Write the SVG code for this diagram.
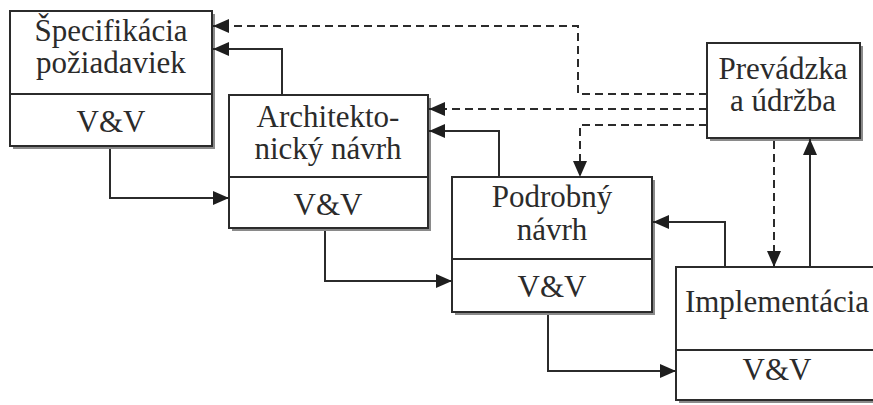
<svg xmlns="http://www.w3.org/2000/svg" width="873" height="405" viewBox="0 0 873 405">
<style>
.shadow{fill:#8a8a8a;}
.box{fill:#fff;stroke:#2b2b2b;stroke-width:2;}
.div{stroke:#2b2b2b;stroke-width:2;}
.t{font-family:"Liberation Serif","Times New Roman",serif;font-size:31px;fill:#2b2b2b;text-anchor:middle;}
.c{fill:none;stroke:#2b2b2b;stroke-width:2;}
.d{fill:none;stroke:#2b2b2b;stroke-width:2;stroke-dasharray:8 5;}
</style>
<defs>
<marker id="ah" markerUnits="userSpaceOnUse" markerWidth="18" markerHeight="16" refX="16" refY="7" orient="auto">
<path d="M0,0 L16,7 L0,14 z" fill="#1e1e1e"/>
</marker>
</defs>
<rect width="873" height="405" fill="#fff"/>
<g id="spec">
<rect class="shadow" x="13" y="14" width="202" height="135"/>
<rect class="box" x="10" y="11" width="202" height="135"/>
<line class="div" x1="10" y1="94" x2="212" y2="94"/>
<text class="t" x="111" y="41">Špecifikácia</text>
<text class="t" x="111" y="73">požiadaviek</text>
<text class="t" x="111" y="132">V&amp;V</text>
</g>
<g id="arch">
<rect class="shadow" x="232" y="98" width="199" height="133"/>
<rect class="box" x="229" y="95" width="199" height="133"/>
<line class="div" x1="229" y1="177" x2="428" y2="177"/>
<text class="t" x="328" y="127">Architekto-</text>
<text class="t" x="328" y="159">nický návrh</text>
<text class="t" x="328" y="215">V&amp;V</text>
</g>
<g id="podrobny">
<rect class="shadow" x="455" y="180" width="200" height="135"/>
<rect class="box" x="452" y="177" width="200" height="135"/>
<line class="div" x1="452" y1="259" x2="652" y2="259"/>
<text class="t" x="552" y="207">Podrobný</text>
<text class="t" x="552" y="240">návrh</text>
<text class="t" x="552" y="297">V&amp;V</text>
</g>
<g id="impl">
<rect class="shadow" x="679" y="270" width="210" height="133"/>
<rect class="box" x="676" y="267" width="210" height="133"/>
<line class="div" x1="676" y1="350" x2="886" y2="350"/>
<text class="t" x="777" y="312">Implementácia</text>
<text class="t" x="777" y="380">V&amp;V</text>
</g>
<g id="prevadzka">
<rect class="shadow" x="710" y="46" width="153" height="95"/>
<rect class="box" x="707" y="43" width="153" height="95"/>
<text class="t" x="783" y="79">Prevádzka</text>
<text class="t" x="783" y="111">a údržba</text>
</g>
<g id="connectors">
<path class="c" d="M110,149 V198 H229" marker-end="url(#ah)"/>
<path class="c" d="M325,231 V281 H452" marker-end="url(#ah)"/>
<path class="c" d="M548,315 V371 H676" marker-end="url(#ah)"/>
<path class="c" d="M282,95 V49 H213" marker-end="url(#ah)"/>
<path class="c" d="M499,177 V131 H429" marker-end="url(#ah)"/>
<path class="c" d="M725,267 V222 H653" marker-end="url(#ah)"/>
<path class="c" d="M810,267 V139" marker-end="url(#ah)"/>
<path class="d" d="M707,94 H578 V26 H213" marker-end="url(#ah)"/>
<path class="d" d="M707,109 H429" marker-end="url(#ah)"/>
<path class="d" d="M707,125 H580 V177" marker-end="url(#ah)"/>
<path class="d" d="M774,141 V267" marker-end="url(#ah)"/>
</g>
</svg>
